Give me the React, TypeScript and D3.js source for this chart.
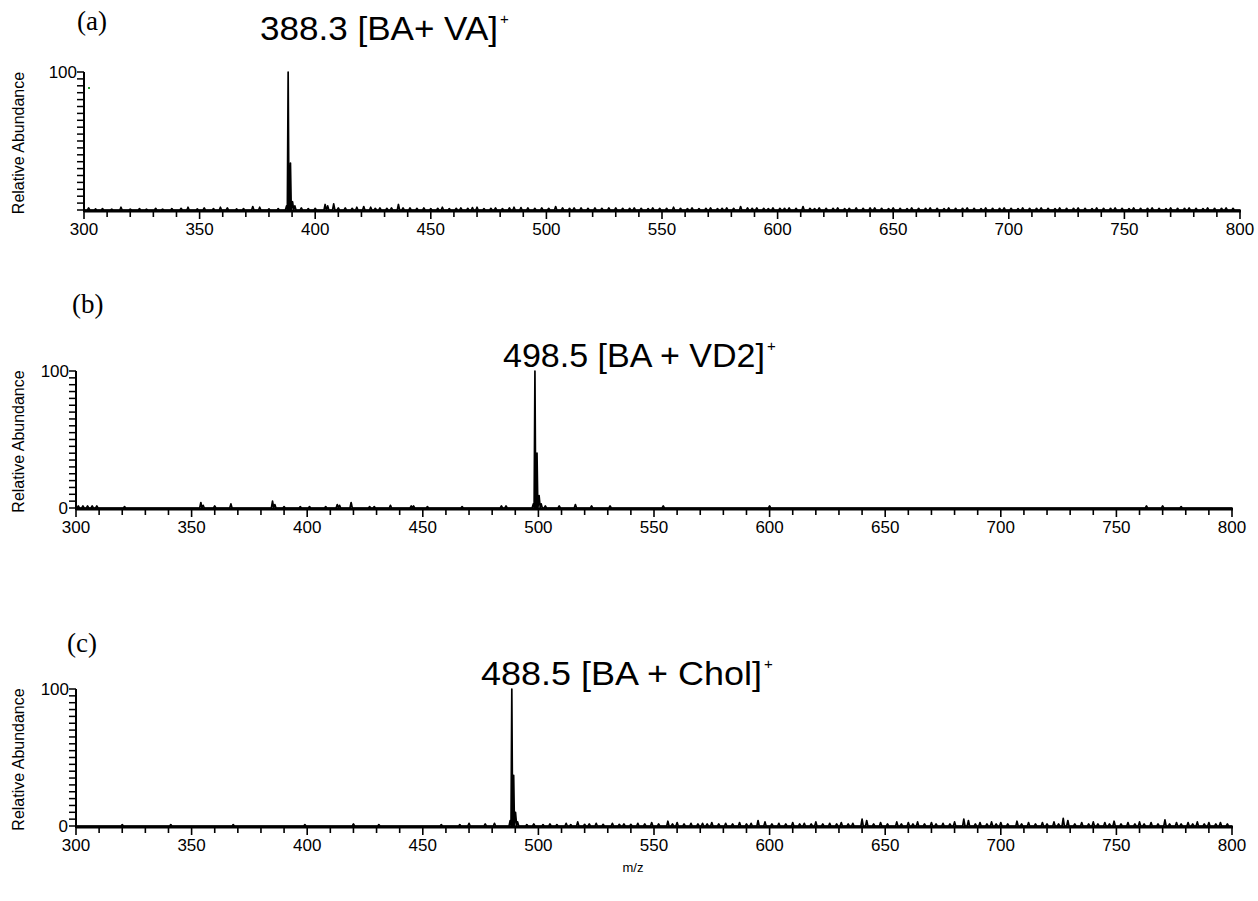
import React from "react";
import * as d3 from "d3";

// ---------- data ----------
const xTicksMajor = [300, 350, 400, 450, 500, 550, 600, 650, 700, 750, 800];
const panelLetters = ["(a)", "(b)", "(c)"];
const peakLabels = ["388.3 [BA+ VA]", "498.5 [BA + VD2]", "488.5 [BA + Chol]"];
const xTitle = "m/z";
const yTitle = "Relative Abundance";

// [m/z, relative abundance]
const peaksA: [number, number][] = [
  [302, 1.5], [305, 0.8], [308, 1], [312, 0.6], [316, 2], [320, 0.7], [324, 1], [327, 0.6], [331, 1.2], [334, 0.7],
  [338, 1], [342, 1.2], [345, 2], [349, 0.8], [352, 1.5], [356, 1], [359, 2], [362, 1.5], [366, 0.8], [369, 1],
  [373, 2.5], [376, 2], [380, 0.8], [384, 1], [387.6, 3], [388.3, 100], [389.3, 34], [390.2, 6], [391.2, 3], [394, 1.5],
  [397, 1], [400, 1.2], [404.3, 4], [405.4, 3], [408, 4.5], [410, 1.5], [413, 1.5], [416, 1.2], [418, 2], [421, 2.5],
  [424, 2], [426, 1.2], [428, 1.5], [431, 1.2], [433, 1.5], [436, 4], [438, 1.5], [441, 1.5], [444, 1.2], [447, 1.5],
  [450, 1], [453, 1.2], [455, 2], [458, 1], [461, 1.2], [463, 1.5], [466, 1.2], [468, 1.8], [470, 2], [473, 1],
  [476, 1.2], [478, 1.5], [481, 1], [484, 1.5], [486, 2], [489, 1.8], [492, 1.5], [495, 1.2], [498, 1.5], [501, 1.2],
  [504, 2.5], [507, 1.5], [510, 1.2], [512, 1.5], [515, 1.5], [518, 1.2], [521, 1.5], [524, 1.2], [527, 1.5],
  [530, 1.5], [533, 1.2], [536, 1.2], [538, 1.5], [541, 1.2], [544, 1], [546, 1.5], [549, 1.2], [552, 1.2],
  [555, 2], [558, 1.2], [561, 1], [563, 1.5], [566, 1], [569, 1.2], [571, 1.5], [574, 1], [576, 1.2], [578, 1.5],
  [581, 1.2], [584, 2.5], [587, 1.5], [589, 1.2], [591, 1.5], [594, 1.2], [596, 1], [598, 1.5], [601, 1.2],
  [603, 1.2], [605, 1.5], [608, 1.2], [611, 2.5], [614, 1.2], [616, 1], [618, 1.5], [621, 1.2], [624, 1.2],
  [626, 1.5], [629, 1], [631, 1.2], [634, 1.5], [637, 1.2], [640, 1.5], [642, 1.5], [645, 1.2], [648, 1],
  [650, 1.5], [653, 1.2], [656, 1], [658, 1.5], [661, 1.2], [664, 1.2], [666, 1.5], [669, 1.2], [672, 1],
  [674, 1.5], [677, 1.2], [680, 1.2], [682, 1.5], [685, 1.2], [688, 1], [690, 1.5], [693, 1.2], [696, 1.2],
  [698, 1.5], [701, 1.2], [704, 1], [706, 1.5], [709, 1.2], [712, 1.2], [714, 1.5], [717, 1.2], [720, 1],
  [722, 1.5], [725, 1.2], [728, 1.2], [730, 1.5], [733, 1.2], [736, 1], [738, 1.5], [741, 1.2], [744, 1.2],
  [746, 1.5], [749, 1.2], [752, 1], [754, 1.5], [757, 1.2], [760, 1.2], [762, 1.5], [765, 1.2], [768, 1],
  [770, 1.5], [773, 1.2], [776, 1.2], [778, 1.5], [781, 1.2], [784, 1], [786, 1.5], [789, 1.2], [792, 1.2], [794, 1.5], [797, 1.2]
];

const peaksB: [number, number][] = [
  [301, 1.5], [303, 1.5], [305, 1.5], [307, 1.5], [309, 1.5], [321, 1], [354, 4], [355, 2], [360, 1.5], [367, 3],
  [385, 5], [386, 2.5], [390, 1], [397, 1], [401, 1], [408, 1], [413, 2.5], [414, 2], [419, 4], [427, 1],
  [429, 1], [436, 2], [445, 1.5], [446, 1.5], [452, 1], [467, 1], [484, 1.5], [486, 1.5], [497.8, 3],
  [498.5, 100], [499.4, 40], [500.3, 9], [501.2, 3], [503, 1.5], [509, 1.5], [516, 2.5], [523, 1.5], [531, 1.5],
  [554, 1.5], [600, 1.5], [763, 1.5], [770, 1.5], [778, 1]
];

const peaksC: [number, number][] = [
  [320, 1], [341, 1], [368, 1], [399, 1], [420, 1.5], [431, 1], [458, 1], [466, 1], [470, 2], [477, 1.5],
  [481, 2], [487.8, 4], [488.5, 100], [489.3, 37], [490.1, 10], [491, 3], [495, 1], [498, 1.5], [502, 1], [505, 1.5],
  [508, 1], [512, 2], [514, 1], [517, 3], [520, 1.2], [522, 1.5], [525, 2], [528, 1.2], [532, 2], [535, 1.2], [537, 1.5],
  [540, 1.2], [543, 2], [546, 1.5], [549, 2.5], [552, 1.5], [556, 3.5], [558, 1.5], [560, 2.5], [563, 1.5], [566, 2],
  [569, 1.5], [571, 2], [573, 1.5], [575, 2.5], [578, 1.5], [581, 2], [584, 1.5], [587, 2.5], [590, 1.5], [592, 2],
  [595, 4], [598, 3], [601, 1.5], [604, 2], [607, 1.5], [610, 2.5], [613, 1.5], [615, 2], [618, 1.5], [620, 3],
  [623, 1.5], [626, 2], [629, 1.5], [631, 2.5], [634, 1.5], [636, 2], [640, 5], [642, 4], [645, 1.5], [648, 2.5],
  [651, 1.5], [655, 3], [657, 1.5], [660, 2.5], [662, 1.5], [664, 3], [667, 1.5], [670, 2.5], [672, 1.5], [675, 2],
  [678, 1.5], [680, 3], [684, 5], [686, 4], [689, 1.5], [691, 2.5], [694, 1.5], [696, 3], [698, 1.5], [700, 2.5],
  [703, 1.5], [707, 3.5], [709, 1.5], [712, 2.5], [715, 1.5], [718, 2.5], [720, 1.5], [723, 3], [725, 1.5],
  [727, 5.5], [729, 4], [732, 1.5], [735, 2.5], [738, 1.5], [740, 3], [742, 1.5], [745, 2.5], [747, 1.5], [749, 3.5],
  [752, 1.5], [755, 2.5], [758, 1.5], [760, 3], [762, 1.5], [765, 2.5], [768, 1.5], [771, 4.5], [773, 1.5],
  [776, 2.5], [778, 1.5], [781, 2.5], [783, 1.5], [785, 3], [788, 1.5], [790, 2.5], [793, 1.5], [795, 2.5], [798, 1.5]
];

const spectra = [peaksA, peaksB, peaksC];

// ---------- layout ----------
const W = 1258, H = 901;
const layouts = [
  { x0: 84, x1: 1240, yBase: 210, yTop: 72, letterX: 77, letterY: 30, labelX: 260, labelY: 40, labelW: 238, showZero: false },
  { x0: 76, x1: 1232, yBase: 508, yTop: 371, letterX: 72, letterY: 313, labelX: 503, labelY: 367, labelW: 262, showZero: true },
  { x0: 76, x1: 1232, yBase: 826, yTop: 689, letterX: 67, letterY: 652, labelX: 481, labelY: 685, labelW: 281, showZero: true },
];

function Panel({ idx }: { idx: number }) {
  const L = layouts[idx];
  const data = spectra[idx];
  const x = d3.scaleLinear().domain([300, 800]).range([L.x0, L.x1]);
  const y = d3.scaleLinear().domain([0, 100]).range([L.yBase, L.yTop]);
  const pts: [number, number][] = [[300, 0]];
  const sorted = [...data].sort((a, b) => a[0] - b[0]);
  sorted.forEach(([m, h]) => {
    const w = h > 20 ? 0.35 : 0.5;
    pts.push([m - w, 0], [m, h], [m + w, 0]);
  });
  pts.push([800, 0]);
  const line = d3.line<[number, number]>().x(d => x(d[0])).y(d => y(d[1]));
  const minorX = d3.range(300, 801, 10);
  const minorY = d3.range(0, 101, 5);
  const tickFont = "Arial, 'Liberation Sans', Helvetica, sans-serif";
  return (
    <g>
      {/* spectrum */}
      <path d={line(pts) || ""} fill="none" stroke="#000" strokeWidth={1.7} strokeLinejoin="round" />
      {/* x axis */}
      <line x1={L.x0} x2={L.x1 + 1} y1={L.yBase + 1} y2={L.yBase + 1} stroke="#000" strokeWidth={2.8} />
      {minorX.map(v => (
        <line key={"xt" + v} x1={x(v)} x2={x(v)} y1={L.yBase} y2={L.yBase + (v % 50 === 0 ? 9 : 7)} stroke="#000" strokeWidth={1.6} />
      ))}
      {xTicksMajor.map(v => (
        <text key={"xl" + v} x={x(v)} y={L.yBase + 25} textAnchor="middle" fontFamily={tickFont} fontSize={17}>{v}</text>
      ))}
      {/* y axis */}
      <line x1={L.x0} x2={L.x0} y1={L.yTop} y2={L.yBase + 2} stroke="#000" strokeWidth={2} />
      {minorY.map(v => (
        <line key={"yt" + v} x1={L.x0 - 7} x2={L.x0} y1={y(v)} y2={y(v)} stroke="#000" strokeWidth={1.5} />
      ))}
      <text x={L.x0 - 7} y={y(100) + 6} textAnchor="end" fontFamily={tickFont} fontSize={17}>100</text>
      {L.showZero && (
        <text x={L.x0 - 8} y={y(0) + 6} textAnchor="end" fontFamily={tickFont} fontSize={17}>0</text>
      )}
      <text transform={`translate(${24},${(L.yTop + L.yBase) / 2 + 2}) rotate(-90)`} textAnchor="middle" fontFamily={tickFont} fontSize={16}>{yTitle}</text>
      {/* panel letter */}
      <text x={L.letterX} y={L.letterY} fontFamily="'Times New Roman', 'Liberation Serif', serif" fontSize={27}>{panelLetters[idx]}</text>
      {/* peak label */}
      <text x={L.labelX} y={L.labelY} fontFamily={tickFont} fontSize={33} textLength={L.labelW} lengthAdjust="spacingAndGlyphs">{peakLabels[idx]}</text>
      <text x={L.labelX + L.labelW + 2} y={L.labelY - 16} fontFamily={tickFont} fontSize={15}>+</text>
      {idx === 0 && <rect x={88} y={87} width={2} height={2} fill="#2a9d2a" />}
    </g>
  );
}

export default function App() {
  return (
    <svg width={W} height={H} style={{ display: "block", position: "absolute", left: 0, top: 0, background: "#fff" }}>
      <rect width={W} height={H} fill="#fff" />
      {[0, 1, 2].map(i => <Panel key={i} idx={i} />)}
      <text x={633} y={872} textAnchor="middle" fontFamily="Arial, 'Liberation Sans', sans-serif" fontSize={13}>{xTitle}</text>
    </svg>
  );
}
